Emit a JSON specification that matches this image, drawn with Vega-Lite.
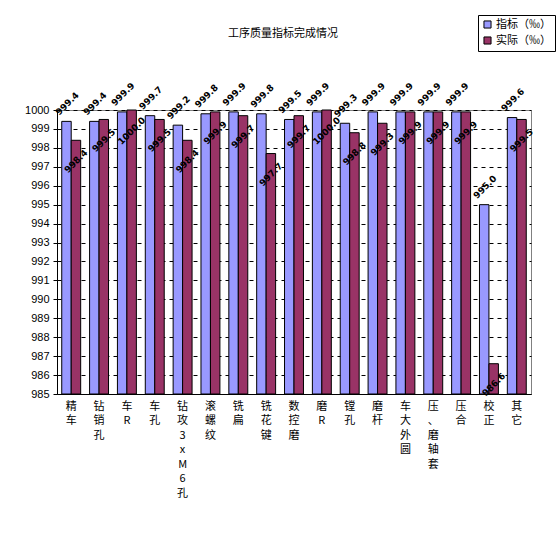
{
  "$schema": "https://vega.github.io/schema/vega-lite/v6.json",
  "autosize": {"type": "none"},
  "width": 474,
  "height": 284,
  "padding": {"left": 57, "top": 110, "right": 25, "bottom": 143},
  "background": "white",
  "title": {"text": "工序质量指标完成情况", "font": "Noto Sans CJK SC", "fontSize": 11, "fontWeight": "normal", "color": "black", "offset": -24, "dx": -11},
  "config": {
    "view": {"stroke": "#808080", "strokeWidth": 1},
    "font": "Noto Sans CJK SC"
  },
  "data": {"values": [
    {"cat": "精车", "series": "指标（‰）", "value": 999.4},
    {"cat": "精车", "series": "实际（‰）", "value": 998.4},
    {"cat": "钻销孔", "series": "指标（‰）", "value": 999.4},
    {"cat": "钻销孔", "series": "实际（‰）", "value": 999.5},
    {"cat": "车R", "series": "指标（‰）", "value": 999.9},
    {"cat": "车R", "series": "实际（‰）", "value": 1000.0},
    {"cat": "车孔", "series": "指标（‰）", "value": 999.7},
    {"cat": "车孔", "series": "实际（‰）", "value": 999.5},
    {"cat": "钻攻3xM6孔", "series": "指标（‰）", "value": 999.2},
    {"cat": "钻攻3xM6孔", "series": "实际（‰）", "value": 998.4},
    {"cat": "滚螺纹", "series": "指标（‰）", "value": 999.8},
    {"cat": "滚螺纹", "series": "实际（‰）", "value": 999.9},
    {"cat": "铣扁", "series": "指标（‰）", "value": 999.9},
    {"cat": "铣扁", "series": "实际（‰）", "value": 999.7},
    {"cat": "铣花键", "series": "指标（‰）", "value": 999.8},
    {"cat": "铣花键", "series": "实际（‰）", "value": 997.7},
    {"cat": "数控磨", "series": "指标（‰）", "value": 999.5},
    {"cat": "数控磨", "series": "实际（‰）", "value": 999.7},
    {"cat": "磨R", "series": "指标（‰）", "value": 999.9},
    {"cat": "磨R", "series": "实际（‰）", "value": 1000.0},
    {"cat": "镗孔", "series": "指标（‰）", "value": 999.3},
    {"cat": "镗孔", "series": "实际（‰）", "value": 998.8},
    {"cat": "磨杆", "series": "指标（‰）", "value": 999.9},
    {"cat": "磨杆", "series": "实际（‰）", "value": 999.3},
    {"cat": "车大外圆", "series": "指标（‰）", "value": 999.9},
    {"cat": "车大外圆", "series": "实际（‰）", "value": 999.9},
    {"cat": "压、磨轴套", "series": "指标（‰）", "value": 999.9},
    {"cat": "压、磨轴套", "series": "实际（‰）", "value": 999.9},
    {"cat": "压合", "series": "指标（‰）", "value": 999.9},
    {"cat": "压合", "series": "实际（‰）", "value": 999.9},
    {"cat": "校正", "series": "指标（‰）", "value": 995.0},
    {"cat": "校正", "series": "实际（‰）", "value": 986.6},
    {"cat": "其它", "series": "指标（‰）", "value": 999.6},
    {"cat": "其它", "series": "实际（‰）", "value": 999.5}
  ]},
  "encoding": {
    "x": {
      "field": "cat", "type": "nominal", "sort": null,
      "scale": {"paddingInner": 0.32, "paddingOuter": 0.17},
      "axis": {
        "title": null, "labelAngle": 0, "ticks": false,
        "domainColor": "black", "labelColor": "black",
        "labelFont": "Noto Sans CJK SC", "labelFontSize": 11,
        "labelExpr": "split(datum.label, '')",
        "labelLineHeight": 14.5, "labelBaseline": "top", "labelPadding": 6,
        "labelLimit": 0
      }
    },
    "xOffset": {"field": "series", "type": "nominal", "sort": ["指标（‰）", "实际（‰）"], "scale": {"paddingInner": 0, "paddingOuter": 0}},
    "y": {
      "field": "value", "type": "quantitative",
      "scale": {"domain": [985, 1000], "zero": false, "nice": false},
      "axis": {
        "title": null, "values": [985,986,987,988,989,990,991,992,993,994,995,996,997,998,999,1000],
        "format": "d", "grid": true, "gridColor": "black", "gridDash": [4, 4], "gridWidth": 1,
        "domainColor": "black", "tickColor": "black", "tickSize": 4,
        "labelColor": "black", "labelFont": "Liberation Sans", "labelFontSize": 11, "labelPadding": 4
      }
    }
  },
  "layer": [
    {
      "mark": {"type": "bar", "stroke": "black", "strokeWidth": 1},
      "encoding": {
        "y2": {"datum": 985},
        "color": {
          "field": "series", "type": "nominal", "sort": ["指标（‰）", "实际（‰）"],
          "scale": {"domain": ["指标（‰）", "实际（‰）"], "range": ["#9999FF", "#993366"]},
          "legend": {
            "title": null, "orient": "none", "legendX": 421, "legendY": -95,
            "symbolType": "square", "symbolSize": 50, "symbolStrokeColor": "black", "symbolStrokeWidth": 1,
            "labelFont": "Noto Sans CJK SC", "labelFontSize": 11, "labelColor": "black",
            "strokeColor": "black", "fillColor": "white", "padding": 4, "rowPadding": 3,
            "labelOffset": 3
          }
        }
      }
    },
    {
      "transform": [{"filter": "datum.series === '指标（‰）'"}],
      "mark": {"type": "text", "angle": -45, "align": "center", "baseline": "middle", "dx": 13, "dy": -12, "fontSize": 9, "fontWeight": "bold", "font": "DejaVu Sans", "color": "black"},
      "encoding": {"text": {"field": "value", "type": "quantitative", "format": ".1f"}}
    },
    {
      "transform": [{"filter": "datum.series === '实际（‰）'"}],
      "mark": {"type": "text", "angle": -45, "align": "center", "baseline": "middle", "dx": -14.8, "dy": 14.8, "fontSize": 9, "fontWeight": "bold", "font": "DejaVu Sans", "color": "black"},
      "encoding": {"text": {"field": "value", "type": "quantitative", "format": ".1f"}}
    }
  ]
}
